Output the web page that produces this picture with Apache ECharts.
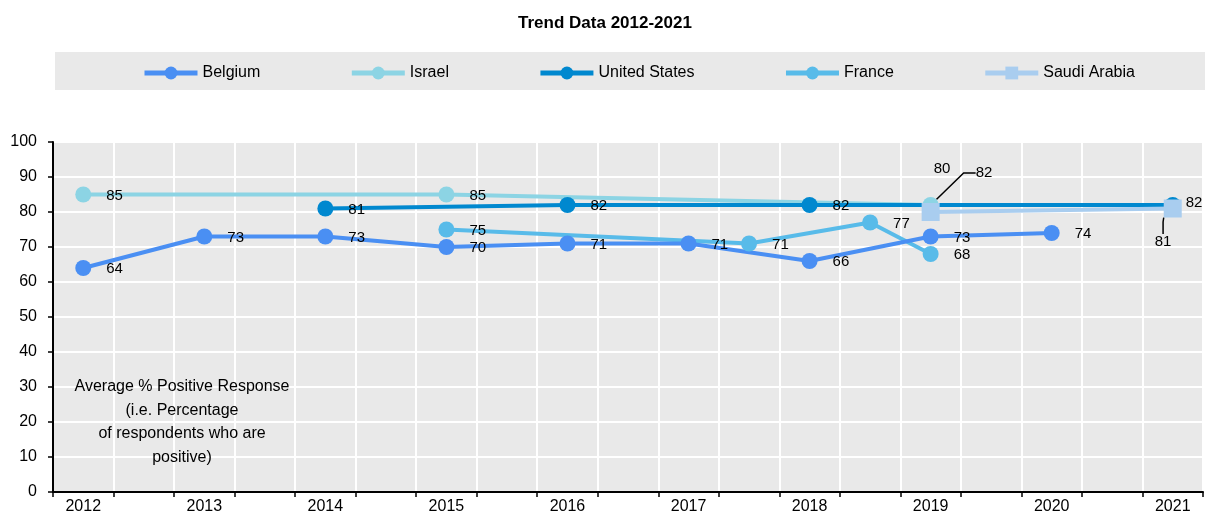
<!DOCTYPE html>
<html>
<head>
<meta charset="utf-8">
<script src="https://cdn.jsdelivr.net/npm/echarts@6/dist/echarts.min.js"></script>
<style>
  html, body { margin: 0; padding: 0; background: #ffffff; }
  #trend-chart { width: 1210px; height: 517px; }
</style>
</head>
<body>
<div id="trend-chart"></div>
<script>
// half-year slots, only whole years get a label
var periods = ['2012', '2012.5', '2013', '2013.5', '2014', '2014.5', '2015', '2015.5', '2016', '2016.5',
  '2017', '2017.5', '2018', '2018.5', '2019', '2019.5', '2020', '2020.5', '2021'];

var belgium = [64, null, 73, null, 73, null, 70, null, 71, null, 71, null, 66, null, 73, null, 74, null, null];
var israel = [85, null, null, null, null, null, 85, null, null, null, null, null, null, null, 82, null, null, null, null];
var unitedStates = [null, null, null, null, 81, null, null, null, 82, null, null, null, 82, null, null, null, null, null, 82];
var france = [null, null, null, null, null, null, 75, null, null, null, null, 71, null, 77, 68, null, null, null, null];
var saudiArabia = [null, null, null, null, null, null, null, null, null, null, null, null, null, null, 80, null, null, null, 81];

var legendNames = ['Belgium', 'Israel', 'United States', 'France', 'Saudi Arabia'];
var yTicks = [0, 10, 20, 30, 40, 50, 60, 70, 80, 90, 100];

var FONT = "'Liberation Sans', Arial, sans-serif";

var myChart = echarts.init(document.getElementById('trend-chart'));

function makeSeries(name, values, color, symbol, size, shifts) {
  return {
    name: name,
    type: 'line',
    data: values.map(function (v, i) {
      if (v === null) return null;
      if (shifts && shifts[i] && shifts[i].line) {
        return { value: v, labelLine: { show: true, length2: 12, lineStyle: { color: '#000', width: 1.5 } } };
      }
      return v;
    }),
    connectNulls: true,
    symbol: symbol,
    symbolSize: size,
    lineStyle: { color: color, width: 4 },
    itemStyle: { color: color, opacity: 1 },
    label: {
      show: true,
      position: 'right',
      distance: 15,
      color: '#000',
      fontSize: 15,
      fontFamily: FONT
    },
    labelLayout: function (params) {
      var s = shifts && shifts[params.dataIndex];
      if (s) return { dx: s.dx, dy: s.dy };
      return { dy: 1 };
    },
    emphasis: { disabled: true }
  };
}

var option = {
  animation: false,
  textStyle: { fontFamily: FONT },
  title: {
    text: 'Trend Data 2012-2021',
    left: 'center',
    top: 10,
    textStyle: { fontSize: 17, fontWeight: 'bold', color: '#000', fontFamily: FONT }
  },
  legend: {
    data: legendNames,
    left: 137,
    top: 60,
    itemWidth: 53,
    itemHeight: 16,
    itemGap: 89,
    selectedMode: false,
    lineStyle: { width: 5 },
    textStyle: { fontSize: 16, color: '#000', fontFamily: FONT }
  },
  graphic: [
    {
      type: 'rect',
      left: 55,
      top: 52,
      z: -1,
      shape: { width: 1150, height: 38 },
      style: { fill: '#e9e9e9' }
    },
    {
      type: 'text',
      x: 182,
      y: 375,
      z: 5,
      style: {
        text: 'Average % Positive Response\n(i.e. Percentage\nof respondents who are\npositive)',
        align: 'center',
        fill: '#000',
        font: '16px ' + FONT,
        lineHeight: 23.5
      }
    }
  ],
  grid: {
    left: 53,
    right: 7,
    top: 142,
    bottom: 25,
    show: true,
    backgroundColor: '#e9e9e9',
    borderWidth: 0
  },
  xAxis: {
    type: 'category',
    data: periods,
    boundaryGap: true,
    axisLine: { lineStyle: { color: '#000', width: 2 } },
    axisTick: { show: true, interval: 0, length: 5, lineStyle: { color: '#000', width: 1.5 } },
    axisLabel: { interval: 1, margin: 7, fontSize: 16, color: '#000', fontFamily: FONT },
    splitLine: { show: true, interval: 0, lineStyle: { color: '#ffffff', width: 2 } }
  },
  yAxis: {
    type: 'value',
    min: yTicks[0],
    max: yTicks[yTicks.length - 1],
    interval: 10,
    axisLine: { show: true, lineStyle: { color: '#000', width: 2 } },
    axisTick: { show: true, length: 5, lineStyle: { color: '#000', width: 1.5 } },
    axisLabel: { margin: 16, fontSize: 16, color: '#000', fontFamily: FONT },
    splitLine: { show: true, lineStyle: { color: '#ffffff', width: 2 } }
  },
  series: [
    makeSeries('Israel', israel, '#8cd4e4', 'circle', 16, { 14: { dx: 22, dy: -32, line: true } }),
    makeSeries('France', france, '#58bbe9', 'circle', 16),
    makeSeries('Belgium', belgium, '#4a8ff3', 'circle', 16),
    makeSeries('United States', unitedStates, '#0088cf', 'circle', 16, { 18: { dx: -10, dy: -2 } }),
    makeSeries('Saudi Arabia', saudiArabia, '#a9cdef', 'rect', 18, {
      14: { dx: -21, dy: -43 },
      18: { dx: -42, dy: 33, line: true }
    })
  ]
};

myChart.setOption(option);
window.onresize = function () {
  myChart.resize();
};
</script>
</body>
</html>
